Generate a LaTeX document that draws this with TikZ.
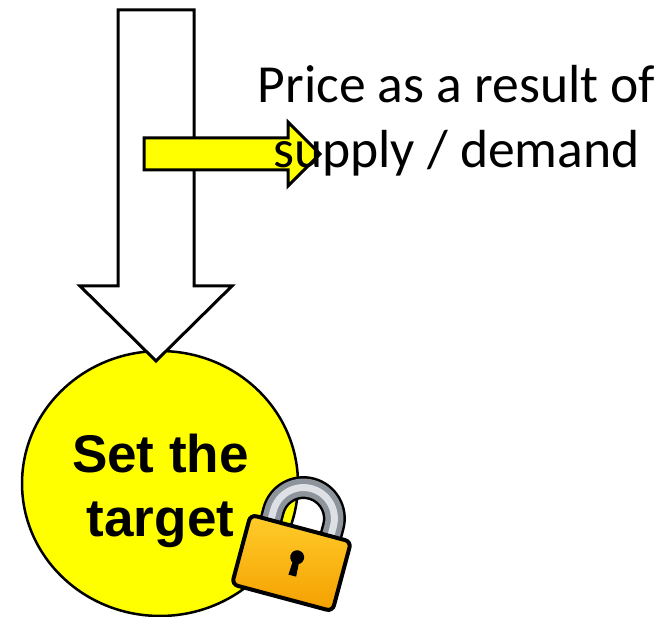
\documentclass[tikz,border=0pt]{standalone}
\usepackage{fontspec}
\setmainfont{Carlito}
\newfontfamily\boldsans{Liberation Sans}
\usetikzlibrary{positioning}
\usetikzlibrary{shapes.geometric}
\definecolor{targetyellow}{HTML}{FFFF00}
\definecolor{lockorange}{HTML}{F4A000}
\definecolor{locklight}{HTML}{FFCC2A}
\definecolor{shacklegray}{HTML}{8E949B}
\definecolor{shacklelight}{HTML}{DDE0E4}
\tikzset{
  blockarrow/.style={draw=black,line width=0.06cm,line join=miter},
  pricetext/.style={align=center,inner sep=0pt,font=\fontsize{30.5}{36.8}\selectfont},
  targettext/.style={align=center,inner sep=0pt,font=\fontsize{30.2}{36.8}\selectfont\boldsans\bfseries},
}
\begin{document}
\begin{tikzpicture}[x=0.02cm,y=-0.02cm]
\useasboundingbox (0,0) rectangle (666,617);
\node (target) at (160,483.5) [ellipse,draw=black,line width=0.05cm,fill=targetyellow,minimum width=5.52cm,minimum height=5.3cm,inner sep=0pt] {};
\node (targetlabel) at (160.5,491) [targettext] {Set the\\target};
\draw[blockarrow,fill=white] (118,10)--(194,10)--(194,286)--(232,286)--(156,361)--(80,286)--(118,286)--cycle;
\draw[blockarrow,fill=targetyellow] (144,138)--(288,138)--(288,122)--(320,154)--(288,186)--(288,170)--(144,170)--cycle;
\node (pricelabel) at (456.5,121) [pricetext] {Price as a result of\\supply / demand};
% padlock
\begin{scope}[shift={(291.5,563)},rotate=-15]
\draw[black,line width=0.46cm] (-31,-28)--(-31,-46) arc[start angle=180,end angle=0,radius=0.62cm]--(31,-28);
\draw[shacklegray,line width=0.36cm] (-31,-28)--(-31,-46) arc[start angle=180,end angle=0,radius=0.62cm]--(31,-28);
\draw[shacklelight,line width=0.14cm] (-31,-28)--(-31,-46) arc[start angle=180,end angle=0,radius=0.62cm]--(31,-28);
\draw[black,line width=0.08cm,rounded corners=0.12cm,top color=locklight,bottom color=lockorange] (-52,-36) rectangle (52,36);
\fill[black] (4,-7) circle[radius=0.14cm];
\fill[black] (1,-5)--(7,-5)--(8,12)--(0,12)--cycle;
\end{scope}
\end{tikzpicture}
\end{document}
